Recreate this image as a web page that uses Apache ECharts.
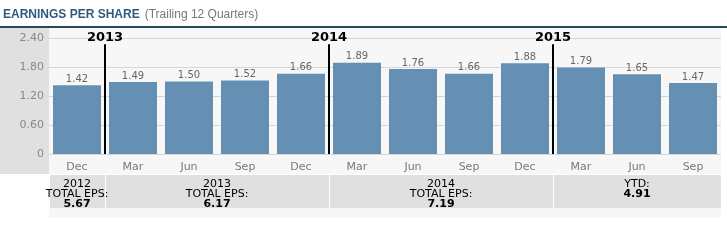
<!DOCTYPE html>
<html><head><meta charset="utf-8">
<script src="https://cdn.jsdelivr.net/npm/echarts@6/dist/echarts.min.js"></script>
<style>html,body{margin:0;padding:0;background:#fff;}#c{width:727px;height:252px;}</style>
</head><body><div id="c"></div>
<script>
const categories = ['Dec','Mar','Jun','Sep','Dec','Mar','Jun','Sep','Dec','Mar','Jun','Sep'];
const eps = [1.42,1.49,1.50,1.52,1.66,1.89,1.76,1.66,1.88,1.79,1.65,1.47];
const yTicks = [0,0.6,1.2,1.8,2.4];
const yearBoundaries = [1,5,9];
const yearLabels = ['2013','2014','2015'];
const yearLineTop = 2.27;
const summaryStart = [0,1,5,9];
const summaryEnd = [1,5,9,12];
const summaryTitle = ['2012','2013','2014','YTD'];
const summaryTotal = [5.67,6.17,7.19,4.91];

const chart = echarts.init(document.getElementById('c'));
const FONT = 'DejaVu Sans';

const yearSeries = yearBoundaries.map((b,i)=>({
  type:'line', xAxisIndex:1, yAxisIndex:0,
  data:[{value:[b,0]},{value:[b,yearLineTop],label:{show:true,position:'top',distance:0,formatter:yearLabels[i],color:'#000',fontWeight:'bold',fontSize:13,fontFamily:FONT}}],
  showSymbol:true, symbolSize:0, symbol:'circle',
  lineStyle:{color:'#000',width:2}, silent:true, z:5, animation:false
}));

const summaryData = summaryStart.map((s,i)=>[s,summaryEnd[i],summaryTitle[i],summaryTotal[i]]);

chart.setOption({
  animation:false,
  backgroundColor:'#fff',
  title:{
    left:3, top:6, padding:0,
    text:'{a|EARNINGS PER SHARE} {b|(Trailing 12 Quarters)}',
    textStyle:{rich:{
      a:{fontFamily:'Liberation Sans',fontWeight:'bold',fontSize:12,color:'#2d5b80'},
      b:{fontFamily:'Liberation Sans',fontWeight:'normal',fontSize:12,color:'#777'}
    }}
  },
  graphic:[
    {type:'rect',z:-10,silent:true,shape:{x:0,y:28,width:49,height:146},style:{fill:'#e0e0e0'}},
    {type:'rect',z:-10,silent:true,shape:{x:49,y:28,width:672,height:146},style:{fill:'#f7f7f7'}},
    {type:'rect',z:-10,silent:true,shape:{x:49,y:208,width:672,height:10},style:{fill:'#f6f6f6'}},
    {type:'line',z:10,silent:true,shape:{x1:0,y1:27,x2:727,y2:27},style:{stroke:'#2b4858',lineWidth:2}}
  ],
  grid:[
    {left:49,right:6,top:38,bottom:98},
    {left:49,right:6,top:175,height:33}
  ],
  xAxis:[
    {type:'category',gridIndex:0,data:categories,axisTick:{show:false},axisLine:{show:false},
     axisLabel:{color:'#777',fontSize:11,fontFamily:FONT,margin:8}},
    {type:'value',gridIndex:0,min:0,max:12,show:false},
    {type:'value',gridIndex:1,min:0,max:12,show:false}
  ],
  yAxis:[
    {type:'value',gridIndex:0,min:0,max:2.4,interval:0.6,
     axisLine:{show:false},axisTick:{show:false},
     splitLine:{lineStyle:{color:'#d6d6d6'}},
     axisLabel:{color:'#888',fontSize:11,fontFamily:FONT,margin:5,
       formatter:v=>{const t=yTicks.find(x=>Math.abs(x-v)<1e-9);return t===0?'0':(t!==undefined?t.toFixed(2):'');}}},
    {type:'value',gridIndex:1,min:0,max:1,show:false}
  ],
  series:[
    {type:'bar',xAxisIndex:0,yAxisIndex:0,data:eps,barWidth:48,
     itemStyle:{color:'#6690b3'},
     label:{show:true,position:'top',distance:1,color:'#666',fontSize:10,fontFamily:FONT,formatter:p=>p.value.toFixed(2)}},
    ...yearSeries,
    {type:'custom',xAxisIndex:2,yAxisIndex:1,data:summaryData,silent:true,clip:false,
     renderItem:(params,api)=>{
       const p0=api.coord([api.value(0),1]);
       const p1=api.coord([api.value(1),0]);
       const d=summaryData[params.dataIndex];
       const txt = d[2]==='YTD' ? '{n|YTD:}\n{b|'+d[3].toFixed(2)+'}' : '{n|'+d[2]+'}\n{n|TOTAL EPS:}\n{b|'+d[3].toFixed(2)+'}';
       return {type:'group',children:[
         {type:'rect',z2:1,shape:{x:p0[0]+1,y:p0[1],width:p1[0]-p0[0]-1,height:p1[1]-p0[1]},style:{fill:'#e0e0e0'}},
         {type:'text',z2:20,style:{x:(p0[0]+p1[0])/2,y:p0[1]+4,text:txt,align:'center',verticalAlign:'top',
           rich:{n:{fontFamily:FONT,fontSize:11,color:'#222',lineHeight:10,align:'center'},
                 b:{fontFamily:FONT,fontSize:11,fontWeight:'bold',color:'#111',lineHeight:10,align:'center'}}}}
       ]};
     }}
  ]
});
</script></body></html>
